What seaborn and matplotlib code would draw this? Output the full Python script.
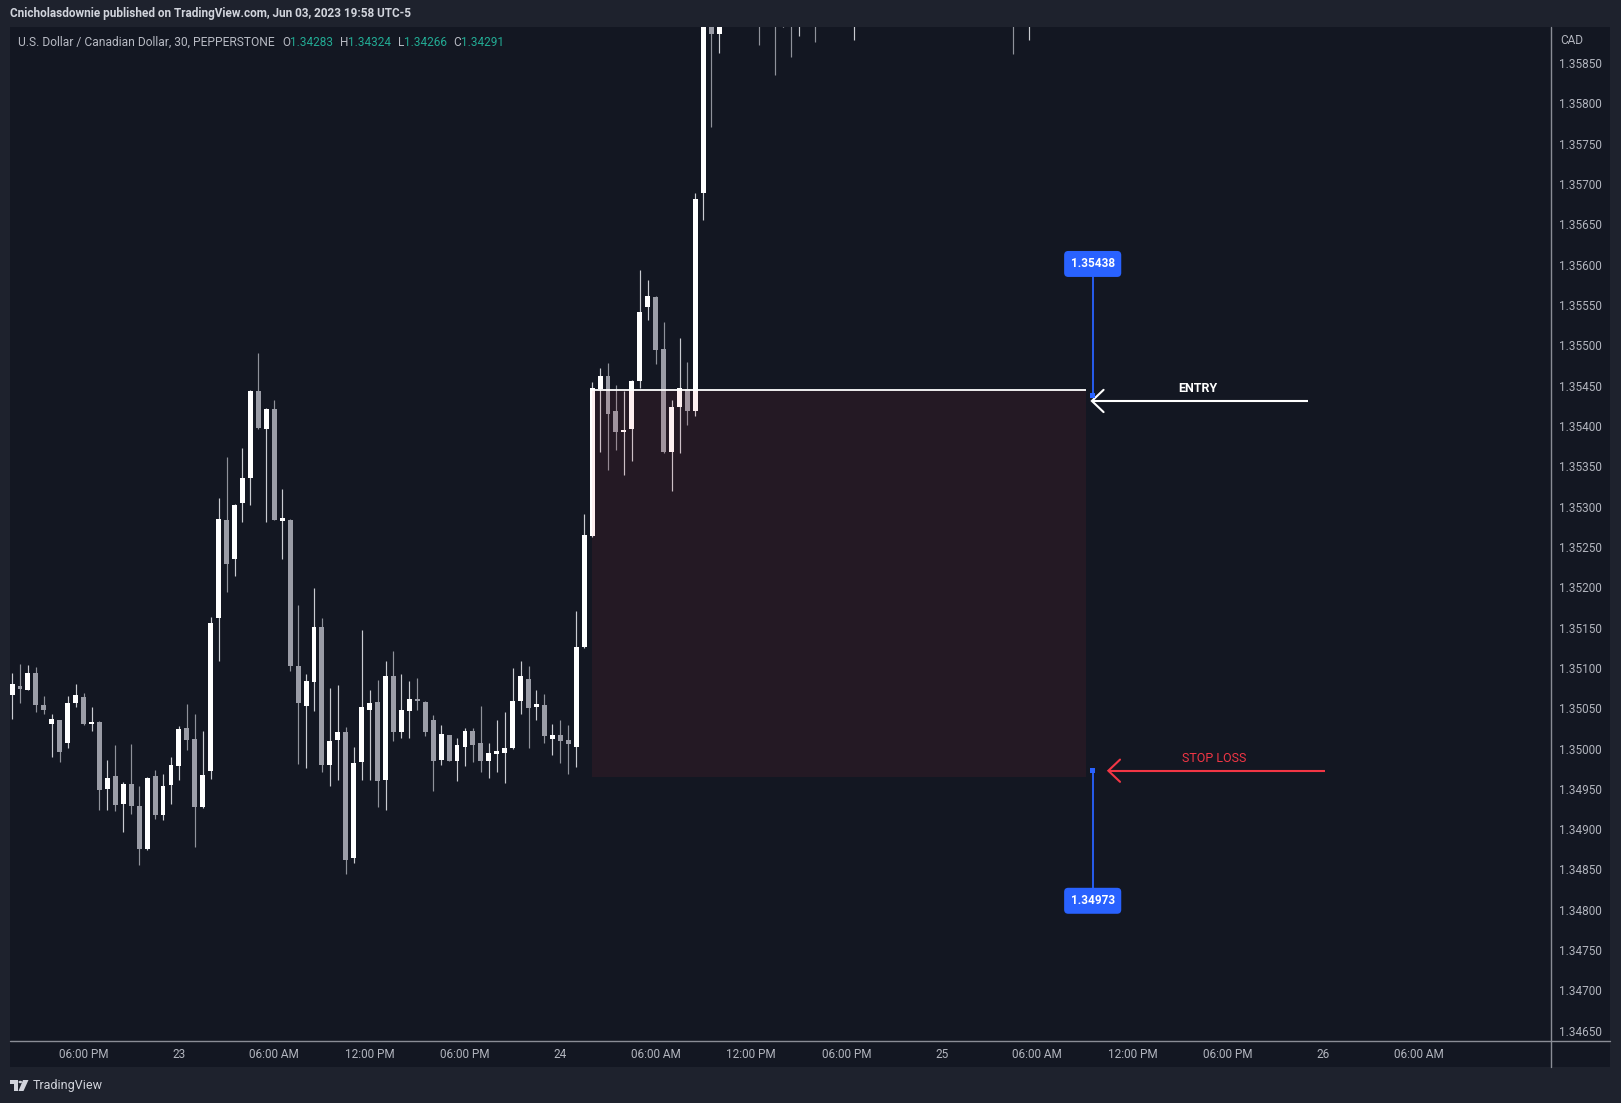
import numpy as np
import pandas as pd
import matplotlib
matplotlib.use("Agg")
import matplotlib.pyplot as plt
import seaborn as sns
from matplotlib.patches import Rectangle, Circle, Polygon
from matplotlib.lines import Line2D

# ---------------- data (30-minute bars, index 0 = May 23 00:00) ----------------
bar_index = list(range(-21, 69)) + [73, 75, 76, 77, 78, 80, 85, 105, 107]

open_px = [
    1.35067, 1.35077, 1.35073, 1.35094, 1.35054, 1.35031, 1.35035, 1.35007, 1.35056, 1.35064,
    1.35030, 1.35033, 1.34950, 1.34966, 1.34931, 1.34956, 1.34929, 1.34876, 1.34966, 1.34918,
    1.34955, 1.34978, 1.35025, 1.35012, 1.34927, 1.34972, 1.35162, 1.35284, 1.35235, 1.35304,
    1.35336, 1.35443, 1.35396, 1.35421, 1.35282, 1.35284, 1.35102, 1.35053, 1.35083, 1.35151,
    1.34980, 1.35011, 1.35021, 1.34864, 1.34983, 1.35048, 1.35058, 1.34961, 1.35090, 1.35021,
    1.35047, 1.35061, 1.35058, 1.35035, 1.34986, 1.35017, 1.34985, 1.35002, 1.35022, 1.35007,
    1.34984, 1.34993, 1.34995, 1.35001, 1.35059, 1.35086, 1.35051, 1.35054, 1.35012, 1.35017,
    1.35011, 1.35002, 1.35126, 1.35264, 1.35446, 1.35462, 1.35419, 1.35392, 1.35396, 1.35456,
    1.35548, 1.35560, 1.35496, 1.35368, 1.35424, 1.35446, 1.35419, 1.35689, 1.35950, 1.35886,
    1.35930, 1.35925, 1.35920, 1.35930, 1.35920, 1.35930, 1.35920, 1.35930, 1.35920,
]
high_px = [
    1.35094, 1.35105, 1.35103, 1.35101, 1.35065, 1.35043, 1.35036, 1.35065, 1.35080, 1.35069,
    1.35051, 1.35034, 1.34986, 1.35004, 1.34958, 1.35005, 1.34954, 1.34965, 1.34973, 1.34968,
    1.34989, 1.35028, 1.35055, 1.35043, 1.35022, 1.35163, 1.35311, 1.35362, 1.35303, 1.35373,
    1.35445, 1.35490, 1.35422, 1.35432, 1.35322, 1.35285, 1.35178, 1.35093, 1.35199, 1.35162,
    1.35075, 1.35079, 1.35027, 1.35002, 1.35147, 1.35073, 1.35085, 1.35108, 1.35121, 1.35092,
    1.35084, 1.35088, 1.35059, 1.35042, 1.35029, 1.35017, 1.35013, 1.35025, 1.35025, 1.35053,
    1.35007, 1.35035, 1.35045, 1.35100, 1.35108, 1.35102, 1.35073, 1.35068, 1.35030, 1.35035,
    1.35029, 1.35170, 1.35291, 1.35454, 1.35472, 1.35478, 1.35451, 1.35443, 1.35457, 1.35593,
    1.35581, 1.35561, 1.35529, 1.35432, 1.35509, 1.35479, 1.35689, 1.35990, 1.35985, 1.35975,
    1.35960, 1.35955, 1.35950, 1.35960, 1.35950, 1.35960, 1.35960, 1.35960, 1.35960,
]
low_px = [
    1.35037, 1.35056, 1.35072, 1.35045, 1.35043, 1.34990, 1.34983, 1.35001, 1.35051, 1.35029,
    1.35022, 1.34924, 1.34924, 1.34922, 1.34897, 1.34919, 1.34855, 1.34874, 1.34913, 1.34911,
    1.34931, 1.34961, 1.34998, 1.34878, 1.34926, 1.34962, 1.35109, 1.35194, 1.35214, 1.35281,
    1.35302, 1.35396, 1.35281, 1.35283, 1.35235, 1.35096, 1.34981, 1.34976, 1.35046, 1.34971,
    1.34953, 1.34961, 1.34845, 1.34858, 1.34961, 1.34961, 1.34928, 1.34924, 1.35009, 1.35013,
    1.35013, 1.35048, 1.35015, 1.34947, 1.34979, 1.34985, 1.34960, 1.34978, 1.34983, 1.34971,
    1.34963, 1.34971, 1.34957, 1.35000, 1.35043, 1.35001, 1.35035, 1.35007, 1.34992, 1.34982,
    1.34968, 1.34977, 1.35125, 1.35262, 1.35368, 1.35345, 1.35370, 1.35339, 1.35357, 1.35447,
    1.35531, 1.35477, 1.35367, 1.35319, 1.35367, 1.35401, 1.35412, 1.35656, 1.35771, 1.35862,
    1.35872, 1.35835, 1.35895, 1.35858, 1.35883, 1.35876, 1.35879, 1.35861, 1.35878,
]
close_px = [
    1.35080, 1.35074, 1.35094, 1.35054, 1.35048, 1.35037, 1.34996, 1.35056, 1.35067, 1.35030,
    1.35033, 1.34949, 1.34964, 1.34930, 1.34956, 1.34929, 1.34876, 1.34964, 1.34918, 1.34954,
    1.34980, 1.35024, 1.35011, 1.34928, 1.34967, 1.35156, 1.35285, 1.35229, 1.35302, 1.35336,
    1.35443, 1.35397, 1.35421, 1.35284, 1.35286, 1.35102, 1.35057, 1.35084, 1.35151, 1.34980,
    1.35009, 1.35021, 1.34862, 1.34982, 1.35051, 1.35057, 1.34960, 1.35090, 1.35020, 1.35048,
    1.35061, 1.35059, 1.35021, 1.34984, 1.35018, 1.34985, 1.35004, 1.35022, 1.35004, 1.34985,
    1.34994, 1.34997, 1.35001, 1.35059, 1.35090, 1.35050, 1.35055, 1.35015, 1.35017, 1.35009,
    1.35006, 1.35126, 1.35265, 1.35447, 1.35462, 1.35415, 1.35392, 1.35395, 1.35456, 1.35541,
    1.35561, 1.35494, 1.35368, 1.35424, 1.35447, 1.35419, 1.35682, 1.35960, 1.35886, 1.35940,
    1.35915, 1.35910, 1.35935, 1.35915, 1.35935, 1.35915, 1.35935, 1.35915, 1.35935,
]

price_tick_labels = ["1.34650", "1.34700", "1.34750", "1.34800", "1.34850", "1.34900",
                     "1.34950", "1.35000", "1.35050", "1.35100", "1.35150", "1.35200",
                     "1.35250", "1.35300", "1.35350", "1.35400", "1.35450", "1.35500",
                     "1.35550", "1.35600", "1.35650", "1.35700", "1.35750", "1.35800",
                     "1.35850"]
time_tick_bars = [-12, 0, 12, 24, 36, 48, 60, 72, 84, 96, 108, 120, 132, 144, 156]
time_tick_labels = ["06:00 PM", "23", "06:00 AM", "12:00 PM", "06:00 PM", "24",
                    "06:00 AM", "12:00 PM", "06:00 PM", "25", "06:00 AM", "12:00 PM",
                    "06:00 PM", "26", "06:00 AM"]

entry_price = 1.35438
stop_price = 1.34973
zone_top = 1.35444
zone_bottom = 1.34965

header_text = "Cnicholasdownie published on TradingView.com, Jun 03, 2023 19:58 UTC-5"
symbol_text = "U.S. Dollar / Canadian Dollar, 30, PEPPERSTONE"
ohlc_letters = ["O", "H", "L", "C"]
ohlc_values = ["1.34283", "1.34324", "1.34266", "1.34291"]

# ---------------- style ----------------
sns.set_theme(style="dark")
plt.rcParams['font.family'] = ['Roboto', 'DejaVu Sans']

BG = '#131722'
FRAME = '#1e222d'
AXTXT = '#b2b5be'
SEP = '#8a8d96'
BLUE = '#2962ff'
RED = '#f23645'

W, H = 1621, 1103
fig = plt.figure(figsize=(W / 100, H / 100), dpi=100)
fig.patch.set_facecolor(FRAME)


def fr(x0, y0, x1, y1):
    return [x0 / W, 1 - y1 / H, (x1 - x0) / W, (y1 - y0) / H]


def fx(x):
    return x / W


def fy(y):
    return 1 - y / H


fig.add_artist(Rectangle((fx(10), fy(1067)), 1600 / W, (1067 - 26.7) / H,
                         transform=fig.transFigure, facecolor=BG, edgecolor='none', zorder=0))

ax = fig.add_axes(fr(10, 26.7, 1551, 1040.7))
ax.set_facecolor(BG)
for s in ax.spines.values():
    s.set_visible(False)
ax.grid(False)

df = pd.DataFrame({'bar': bar_index, 'open': open_px, 'high': high_px,
                   'low': low_px, 'close': close_px})
df['up'] = df['close'] >= df['open']

wick_col = np.where(df['up'], '#c9cbd1', '#8f929b')
ax.vlines(df['bar'], df['low'], df['high'], colors=wick_col, linewidth=0.85, zorder=2)
body_bot = df[['open', 'close']].min(axis=1)
body_h = (df['close'] - df['open']).abs().clip(lower=1.6e-5)
body_col = np.where(df['up'], '#ffffff', '#9a9ca6')
ax.bar(df['bar'], body_h, bottom=body_bot, width=0.62, color=body_col,
       linewidth=0, zorder=3)

# risk zone
zx0, zx1 = 51.95, 114.1
ax.add_patch(Rectangle((zx0, zone_bottom), zx1 - zx0, zone_top - zone_bottom,
                       facecolor=RED, alpha=0.08, edgecolor='none', zorder=5))
ax.hlines(zone_top, zx0, zx1, color='white', lw=1.3, zorder=6)

# price-range tool
tool_x = 115
top_box = 1.356009
bot_box = 1.348112
half_box = 0.000149
ax.vlines(tool_x, entry_price, top_box - half_box, color=BLUE, lw=1.3, zorder=7)
ax.vlines(tool_x, bot_box + half_box, stop_price, color=BLUE, lw=1.3, zorder=7)
sns.scatterplot(x=[tool_x, tool_x], y=[entry_price, stop_price], marker='s', s=14,
                color=BLUE, edgecolor='none', ax=ax, zorder=8, legend=False)
for p, val in [(top_box, entry_price), (bot_box, stop_price)]:
    ax.text(tool_x, p, f"{val:.5f}", ha='center', va='center', color='white',
            fontsize=8.5, fontweight='bold', zorder=9,
            bbox=dict(boxstyle='round,pad=0.55,rounding_size=0.35', fc=BLUE, ec='none'))


def arrow(x_tip, x_end, y, color):
    ax.plot([x_tip, x_end], [y, y], color=color, lw=1.5, solid_capstyle='butt', zorder=7)
    dx, dy = 1.47, 0.000138
    ax.plot([x_tip + dx, x_tip, x_tip + dx], [y + dy, y, y - dy], color=color,
            lw=1.5, zorder=7, solid_joinstyle='miter')


arrow(114.9, 142.1, 1.354310, 'white')
ax.text(128.3, 1.354459, 'ENTRY', color='white', fontsize=9, fontweight='bold',
        ha='center', va='center', zorder=8)
arrow(116.97, 144.2, 1.349725, RED)
ax.text(130.3, 1.349879, 'STOP LOSS', color=RED, fontsize=9,
        ha='center', va='center', zorder=8)

# axes
ax.set_xlim(-21.26, 172.68)
ax.set_ylim(1.346377, 1.358951)
ax.set_yticks([float(v) for v in price_tick_labels])
ax.set_yticklabels(price_tick_labels)
ax.yaxis.tick_right()
ax.tick_params(axis='y', length=0, pad=5.8, labelsize=8.5, labelcolor=AXTXT)
ax.set_xticks(time_tick_bars)
ax.set_xticklabels(time_tick_labels)
ax.tick_params(axis='x', length=0, pad=5.5, labelsize=8.5, labelcolor=AXTXT)
ax.set_xlabel('')
ax.set_ylabel('')

# separators
fig.add_artist(Line2D([fx(1551), fx(1551)], [fy(26.7), fy(1067)], transform=fig.transFigure,
                      color=SEP, lw=1))
fig.add_artist(Line2D([fx(10), fx(1610)], [fy(1040.7), fy(1040.7)], transform=fig.transFigure,
                      color=SEP, lw=1))

fig.text(fx(1560), fy(40.5), 'CAD', color=AXTXT, fontsize=8.5, ha='left', va='center')

# header
fig.text(fx(10), fy(14), header_text, color='#d1d4dc', fontsize=8.5,
         fontweight='semibold', ha='left', va='center')

fig.canvas.draw()
rend = fig.canvas.get_renderer()
fig.text(fx(17.6), fy(42), symbol_text, color='#b8bbc4', fontsize=8.62, ha='left', va='center')
for xs, letter, val in zip([282, 340, 398, 453], ohlc_letters, ohlc_values):
    t = fig.text(fx(xs), fy(42), letter, color='#b8bbc4', fontsize=8.5, ha='left', va='center')
    w = t.get_window_extent(renderer=rend).width
    fig.text(fx(xs + w), fy(42), val, color='#22ab94', fontsize=8.5, ha='left', va='center')

# footer logo
logo_col = '#d1d4dc'
fig.add_artist(Rectangle((fx(10), fy(1083.5)), 7.5 / W, 3.5 / H, transform=fig.transFigure,
                         facecolor=logo_col, edgecolor='none'))
fig.add_artist(Rectangle((fx(14), fy(1091)), 3.5 / W, 11 / H, transform=fig.transFigure,
                         facecolor=logo_col, edgecolor='none'))
fig.add_artist(Circle((fx(20.3), fy(1082)), 1.8 / W, transform=fig.transFigure,
                      facecolor=logo_col, edgecolor='none'))
fig.add_artist(Polygon([(fx(23), fy(1080)), (fx(28.5), fy(1080)), (fx(23.5), fy(1091)),
                        (fx(18.5), fy(1091))], closed=True, transform=fig.transFigure,
                       facecolor=logo_col, edgecolor='none'))
fig.text(fx(32.5), fy(1085.5), 'TradingView', color=logo_col, fontsize=9,
         ha='left', va='center')

fig.savefig('out.png', dpi=100, facecolor=FRAME)
